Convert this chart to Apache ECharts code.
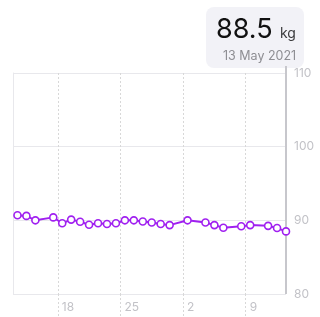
<!DOCTYPE html>
<html>
<head>
<meta charset="utf-8">
<script src="https://cdn.jsdelivr.net/npm/echarts@6/dist/echarts.min.js"></script>
<style>
html,body{margin:0;padding:0;background:#fff;}
#c{width:320px;height:317px;}
</style>
</head>
<body>
<div id="c"></div>
<script>
// Data
var dates = ['2021-04-13','2021-04-14','2021-04-15','2021-04-17','2021-04-18','2021-04-19','2021-04-20','2021-04-21','2021-04-22','2021-04-23','2021-04-24','2021-04-25','2021-04-26','2021-04-27','2021-04-28','2021-04-29','2021-04-30','2021-05-02','2021-05-04','2021-05-05','2021-05-06','2021-05-08','2021-05-09','2021-05-11','2021-05-12','2021-05-13'];
var weights = [90.7,90.6,90.0,90.4,89.6,90.1,89.8,89.4,89.6,89.5,89.6,90.0,90.0,89.85,89.7,89.5,89.35,90.0,89.7,89.35,89.0,89.2,89.35,89.25,88.95,88.5];
var weekTickDates = ['2021-04-18','2021-04-25','2021-05-02','2021-05-09'];
var yTicks = [80, 90, 100, 110];
var unit = 'kg';
var startDate = '2021-04-13';
var endDate = '2021-05-13';
var monthNames = ['Jan','Feb','Mar','Apr','May','Jun','Jul','Aug','Sep','Oct','Nov','Dec'];

function toMs(s){var p=s.split('-');return Date.UTC(+p[0],+p[1]-1,+p[2]);}
var DAY = 86400000;
var origin = toMs(startDate);
function dayIndex(s){return (toMs(s)-origin)/DAY;}

var points = dates.map(function(d,i){return [dayIndex(d)+0.5, weights[i]];});
var weekVals = weekTickDates.map(dayIndex);
var lastX = dayIndex(endDate)+0.5;
var lastVal = weights[weights.length-1];
var ld = new Date(toMs(dates[dates.length-1]));
var lastLabel = ld.getUTCDate()+' '+monthNames[ld.getUTCMonth()]+' '+ld.getUTCFullYear();

var purple = '#a020f0';
var labelColor = '#c2c2c7';
var font = 'Inter, "Noto Sans", sans-serif';

var chart = echarts.init(document.getElementById('c'), null, {renderer:'canvas'});
chart.setOption({
  animation:false,
  backgroundColor:'#fff',
  grid:{left:13,right:34,top:73,bottom:23,containLabel:false},
  xAxis:{
    type:'value', min:0, max:lastX,
    axisLine:{show:false},
    axisTick:{show:true, customValues:weekVals, length:23, lineStyle:{color:'#d8d8d8', type:[2,2], width:1}},
    axisLabel:{show:true, customValues:weekVals, margin:7, align:'left', padding:[0,0,0,4],
      color:labelColor, fontSize:12, fontFamily:font,
      formatter:function(v){return String(new Date(origin+v*DAY).getUTCDate());}},
    splitLine:{show:true, lineStyle:{color:'#d8d8d8', type:[2,2], width:1}}
  },
  yAxis:[{
    type:'value', position:'right', min:yTicks[0], max:yTicks[yTicks.length-1], interval:10,
    axisLine:{show:false}, axisTick:{show:false},
    axisLabel:{margin:8, color:labelColor, fontSize:12, fontFamily:font},
    splitLine:{show:true, lineStyle:{color:'#e8e8ec', width:1}}
  },{
    type:'value', position:'left', min:yTicks[0], max:yTicks[yTicks.length-1],
    axisLine:{show:true, lineStyle:{color:'#e8e8ec', width:1}},
    axisTick:{show:false}, axisLabel:{show:false}, splitLine:{show:false}
  }],
  series:[{
    type:'line', yAxisIndex:0, data:points,
    lineStyle:{color:purple, width:2},
    itemStyle:{color:'#fff', borderColor:purple, borderWidth:1.6},
    symbol:'circle', symbolSize:7, showAllSymbol:true,
    clip:false,
    z:3
  }]
});

// Cursor line at the latest reading, positioned through the chart's own scales
var pBottom = chart.convertToPixel({xAxisIndex:0, yAxisIndex:0}, [lastX, yTicks[0]]);
var pTop = chart.convertToPixel({xAxisIndex:0, yAxisIndex:0}, [lastX, yTicks[yTicks.length-1]]);
var boxW = 98, boxH = 61, boxTop = 7;
var boxLeft = Math.round(pBottom[0] - 80);
chart.setOption({
  graphic:[
    {type:'line', z:1, shape:{x1:pBottom[0], y1:pBottom[1], x2:pTop[0], y2:boxTop+boxH-2},
      style:{stroke:'#c7c7cc', lineWidth:2}},
    {type:'group', left:boxLeft, top:boxTop, z:10,
      children:[
        {type:'rect', shape:{x:0,y:0,width:boxW,height:boxH,r:8}, style:{fill:'#f2f2f7'}},
        {type:'text', x:10, y:9, style:{text:lastVal.toFixed(1), font:'400 27px '+font, fill:'#111'}},
        {type:'text', x:74, y:20, style:{text:unit, font:'400 14px '+font, fill:'#3a3a3c'}},
        {type:'text', x:17, y:43, style:{text:lastLabel, font:'400 12.5px '+font, fill:'#8e8e93'}}
      ]}
  ]
});
</script>
</body>
</html>
